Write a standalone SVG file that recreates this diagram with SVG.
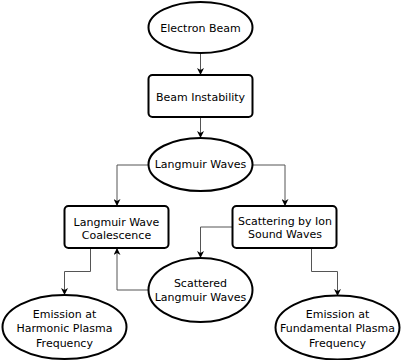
<svg xmlns="http://www.w3.org/2000/svg" width="401" height="360" viewBox="0 0 401 360">
<defs>
<marker id="arr" viewBox="0 0 10 10" refX="10" refY="5" markerWidth="7" markerHeight="7" markerUnits="userSpaceOnUse" orient="auto">
<path d="M0,0 L10,5 L0,10 L3,5 z" fill="#000"/>
</marker>
</defs>
<style>
.n{fill:#fff;stroke:#000;stroke-width:2}
.c{fill:none;stroke:#555;stroke-width:1;marker-end:url(#arr)}
text{font-family:"DejaVu Sans",sans-serif;font-size:11px;fill:#000;text-anchor:middle}
</style>
<rect width="401" height="360" fill="#fff"/>
<g id="connectors">
<path class="c" d="M200.5,53 V75"/>
<path class="c" d="M200.5,117 V138"/>
<path class="c" d="M148,165 H117 V206"/>
<path class="c" d="M253,165 H285 V206"/>
<path class="c" d="M232,227 H200.5 V258"/>
<path class="c" d="M148,290 H117 V248"/>
<path class="c" d="M90.5,248 V271.5 H64.5 V295"/>
<path class="c" d="M311.5,248 V271.5 H337.5 V296"/>
</g>
<g id="electron-beam"><ellipse class="n" cx="200.5" cy="27.5" rx="52" ry="25.5"/><text x="200.5" y="31.5">Electron Beam</text></g>
<g id="beam-instability"><rect class="n" x="148.5" y="75" width="104" height="42" rx="4"/><text x="200.5" y="101">Beam Instability</text></g>
<g id="langmuir-waves"><ellipse class="n" cx="200.5" cy="164.5" rx="52" ry="26.5"/><text x="200.5" y="168">Langmuir Waves</text></g>
<g id="coalescence"><rect class="n" x="64.5" y="206" width="104" height="42" rx="4"/><text x="116.5" y="225.5">Langmuir Wave</text><text x="116.5" y="238.5">Coalescence</text></g>
<g id="scattering"><rect class="n" x="232.5" y="206" width="104" height="42" rx="4"/><text x="285" y="224.5">Scattering by Ion</text><text x="285" y="237.5">Sound Waves</text></g>
<g id="scattered"><ellipse class="n" cx="200.5" cy="290" rx="52" ry="32"/><text x="200.5" y="287">Scattered</text><text x="200.5" y="301">Langmuir Waves</text></g>
<g id="emission-harmonic"><ellipse class="n" cx="64.5" cy="327" rx="62" ry="32"/><text x="64.5" y="318">Emission at</text><text x="64.5" y="332">Harmonic Plasma</text><text x="64.5" y="346.5">Frequency</text></g>
<g id="emission-fundamental"><ellipse class="n" cx="337.5" cy="327.5" rx="62" ry="32"/><text x="337.5" y="318">Emission at</text><text x="337.5" y="332">Fundamental Plasma</text><text x="337.5" y="346.5">Frequency</text></g>
</svg>
